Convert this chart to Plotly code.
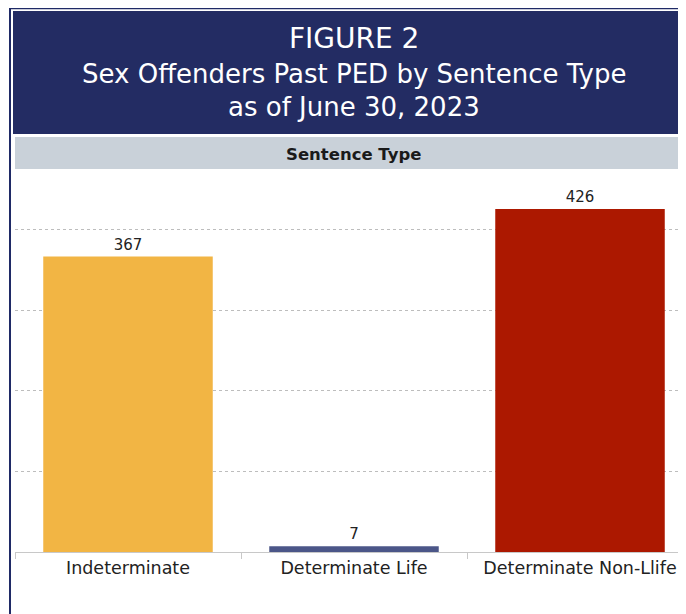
import plotly.graph_objects as go

categories = ["Indeterminate", "Determinate Life", "Determinate Non-Llife"]
values = [367, 7, 426]
bar_colors = ["#F2B544", "#4B5688", "#AC1800"]
title_lines = ["FIGURE 2", "Sex Offenders Past PED by Sentence Type", "as of June 30, 2023"]
band_label = "Sentence Type"
grid_vals = [100, 200, 300, 400]

# the page body has an 8px margin; lay out in window coordinates and convert
OFF = 8
W, H = 686 - OFF, 614 - OFF
L, R, T, B = 15 - OFF, 0, 172 - OFF, 614 - 552
PW, PH = W - L - R, H - T - B
FONT = "DejaVu Sans, sans-serif"

def px(x):
    return (x - OFF - L) / PW

def py(y):
    return (H - B - (y - OFF)) / PH

fig = go.Figure(go.Bar(
    x=categories, y=values, marker=dict(color=bar_colors, line=dict(width=0)),
    text=[str(v) for v in values], textposition="outside",
    textfont=dict(family=FONT, size=15, color="#222222"), cliponaxis=False,
    width=0.75,
))

NAVY = "#1F2A66"
shapes = [
    dict(type="line", xref="paper", yref="paper", x0=px(10), x1=px(10), y0=py(8), y1=py(614 + 5),
         line=dict(color=NAVY, width=2)),
    dict(type="line", xref="paper", yref="paper", x0=px(10), x1=px(686 + 5), y0=py(8.5), y1=py(8.5),
         line=dict(color=NAVY, width=1.5)),
    dict(type="rect", xref="paper", yref="paper", x0=px(13), x1=px(684), y0=py(11), y1=py(134),
         fillcolor="#232C63", line=dict(width=0), layer="below"),
    dict(type="rect", xref="paper", yref="paper", x0=px(15), x1=px(686 + 5), y0=py(137), y1=py(169),
         fillcolor="#C9D1D9", line=dict(width=0), layer="below"),
]

annotations = []
for txt, y, size in zip(title_lines, [39, 74, 107], [28, 26, 26]):
    annotations.append(dict(text=txt, xref="paper", yref="paper", x=px(354), y=py(y),
                            xanchor="center", yanchor="middle", showarrow=False,
                            font=dict(family=FONT, size=size, color="white")))
annotations.append(dict(text="<b>" + band_label + "</b>", xref="paper", yref="paper", x=px(354), y=py(154),
                        xanchor="center", yanchor="middle", showarrow=False,
                        font=dict(family=FONT, size=16.5, color="#1A1A1A")))

fig.update_layout(
    width=W, height=H, margin=dict(l=L, r=R, t=T, b=B),
    paper_bgcolor="white", plot_bgcolor="white",
    showlegend=False, bargap=0.25,
    shapes=shapes, annotations=annotations,
    font=dict(family=FONT),
)
fig.update_xaxes(range=[-0.5, 2.469], showline=True, linecolor="#C8C8C8", linewidth=1,
                 ticks="outside", tickson="boundaries", ticklen=6, tickcolor="#C8C8C8",
                 tickfont=dict(family=FONT, size=17.5, color="#222222"), showgrid=False,
                 fixedrange=True)
fig.update_yaxes(range=[0, 472], tickvals=grid_vals, showticklabels=False, showgrid=True,
                 gridcolor="#BDBDBD", griddash="dot", gridwidth=1, zeroline=False,
                 fixedrange=True)

fig.write_html("out.html")
